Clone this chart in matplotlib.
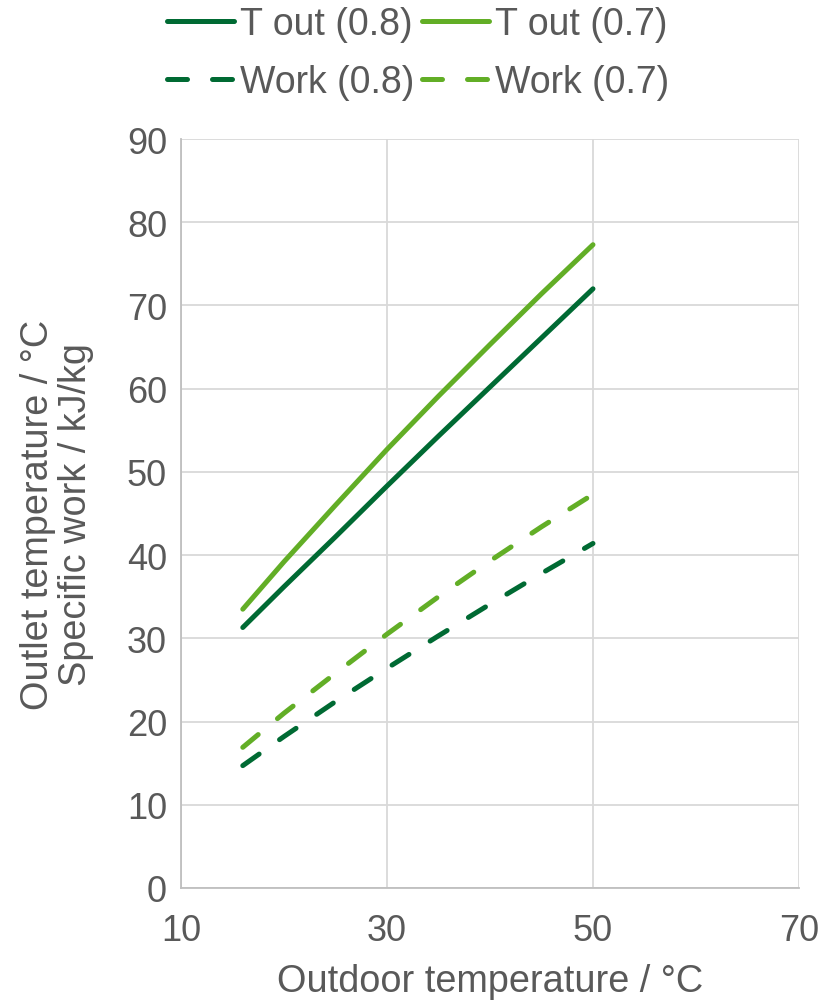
import matplotlib
matplotlib.use("Agg")
import matplotlib.pyplot as plt

plt.rcParams['font.family'] = ['Liberation Sans', 'DejaVu Sans']

x_vals = [16, 20, 25, 30, 35, 40, 45, 50]
t_out_08 = [31.3, 36.2, 42.2, 48.3, 54.3, 60.2, 66.1, 72.0]
t_out_07 = [33.5, 39.2, 46.0, 52.7, 59.1, 65.3, 71.4, 77.3]
work_08 = [14.7, 18.2, 22.4, 26.4, 30.3, 34.1, 37.8, 41.4]
work_07 = [16.9, 21.0, 25.8, 30.5, 35.0, 39.3, 43.4, 47.3]

x_ticks = [10, 30, 50, 70]
y_ticks = [0, 10, 20, 30, 40, 50, 60, 70, 80, 90]

dark = '#006A33'
light = '#62AE26'
txt = '#595959'

fig = plt.figure(figsize=(8.36, 10.03), dpi=100)
ax = fig.add_axes([0.2165, 0.1137, 0.7392, 0.7467])

lw = 3.6
h1, = ax.plot(x_vals, t_out_08, color=dark, lw=lw, solid_capstyle='round', label='T out (0.8)')
h2, = ax.plot(x_vals, t_out_07, color=light, lw=lw, solid_capstyle='round', label='T out (0.7)')
h3, = ax.plot(x_vals, work_08, color=dark, lw=lw, dashes=(4, 5), dash_capstyle='round', label='Work (0.8)')
h4, = ax.plot(x_vals, work_07, color=light, lw=lw, dashes=(4, 5), dash_capstyle='round', label='Work (0.7)')

ax.set_xlim(10, 70)
ax.set_ylim(0, 90)
ax.set_xticks(x_ticks)
ax.set_yticks(y_ticks)
ax.grid(True, color='#D9D9D9', lw=1.3)
ax.set_axisbelow(True)
for s in ['top', 'right']:
    ax.spines[s].set_visible(False)
for s in ['left', 'bottom']:
    ax.spines[s].set_color('#BFBFBF')
    ax.spines[s].set_linewidth(1.3)
ax.tick_params(length=0, labelsize=26, colors=txt, pad=10)
ax.tick_params(axis='x', pad=18)

ax.set_xlabel('Outdoor temperature / °C', fontsize=27.3, color=txt, labelpad=11)
fig.text(0.068, 0.4865, 'Outlet temperature / °C\nSpecific work / kJ/kg', rotation=90,
         ha='center', va='center', multialignment='center', fontsize=27.3, color=txt,
         linespacing=1.05)

leg = fig.legend(handles=[h1, h3, h2, h4], loc='upper center', bbox_to_anchor=(0.5, 1.008),
                 ncol=2, frameon=False, fontsize=27, handlelength=1.8, handletextpad=0.15,
                 columnspacing=0.2, labelspacing=0.58, borderaxespad=0)
for t in leg.get_texts():
    t.set_color(txt)

fig.savefig('out.png', dpi=100)
